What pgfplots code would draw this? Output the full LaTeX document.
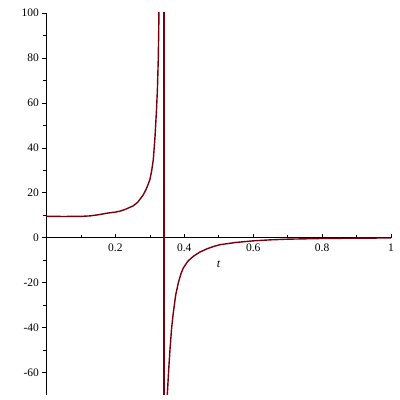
\documentclass[border=0pt]{standalone}
\usepackage{fontspec}
\setmainfont{Liberation Serif}
\usepackage{pgfplots}
\pgfplotsset{compat=1.18}
\definecolor{maple}{rgb}{0.47,0,0.055}

\begin{document}
\begin{tikzpicture}
\useasboundingbox (-46.5pt,-5pt) rectangle (353.5pt,395pt);
\begin{axis}[
  at={(0,0)}, anchor=south west,
  scale only axis, width=344.5pt, height=382pt,
  xmin=0, xmax=1, ymin=-70, ymax=100,
  axis lines=middle,
  axis line style={-, line width=0.7pt},
  xtick={0.2,0.4,0.6,0.8,1},
  ytick={-60,-40,-20,0,20,40,60,80,100},
  minor xtick={0.1,0.3,0.5,0.7,0.9},
  minor ytick={-50,-30,-10,10,30,50,70,90},
  hide obscured y ticks=false,
  xtick align=inside, ytick align=outside,
  major tick length=4pt, minor tick length=3pt,
  tick style={black, line width=0.6pt},
  ticklabel style={font=\fontsize{11.5}{12}\selectfont},
  xticklabel style={yshift=-3pt},
  /pgf/number format/assume math mode=true,
  xlabel={\textit{t}},
  xlabel style={at={(axis cs:0.5,0)}, anchor=north, yshift=-20pt,
    font=\fontsize{12}{12}\selectfont},
  clip=true,
]
  % branch left of the pole
  \addplot[maple, line width=1.4pt] coordinates {
    (0,9.5) (0.05,9.45) (0.1,9.5) (0.126,9.7) (0.15,10.2) (0.175,10.9)
    (0.2,11.4) (0.213,11.8) (0.23,12.7) (0.252,14.2) (0.265,15.8)
    (0.281,19.1) (0.29,21.8) (0.300,25.8) (0.305,29.5) (0.310,34.7)
    (0.315,45) (0.319,56) (0.322,66) (0.3245,80) (0.326,95) (0.327,110)
  };
  % joining segment drawn through the pole
  \addplot[maple, line width=2pt] coordinates {(0.341,110) (0.341,-80)};
  % branch right of the pole
  \addplot[maple, line width=1.4pt] coordinates {
    (0.3495,-80) (0.351,-69) (0.355,-58) (0.3585,-49.8) (0.363,-40.5)
    (0.368,-33.5) (0.375,-25.5) (0.3826,-20.1) (0.39,-16.2) (0.397,-13.5)
    (0.41,-10.5) (0.426,-8.3) (0.445,-6.4) (0.465,-5.0) (0.485,-3.9)
    (0.5036,-3.1) (0.55,-2.1) (0.6,-1.4) (0.65,-0.95) (0.7,-0.65)
    (0.8,-0.35) (0.9,-0.2) (1,-0.12)
  };
\end{axis}
\end{tikzpicture}
\end{document}
